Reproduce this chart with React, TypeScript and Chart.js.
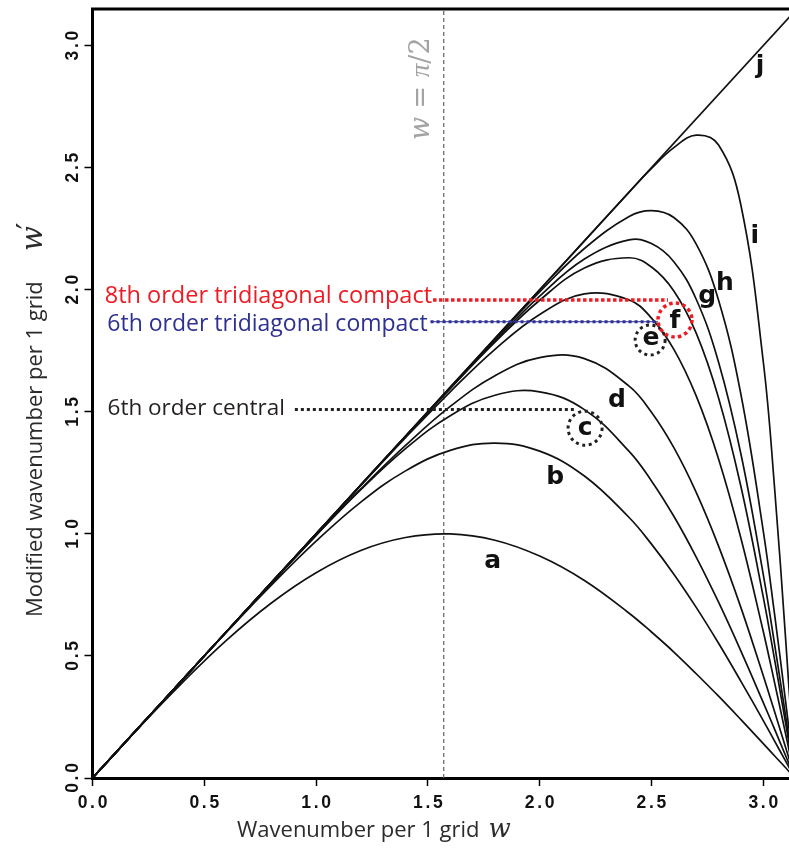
import React, { useEffect, useRef } from 'react';
import { Chart, registerables } from 'chart.js';

Chart.register(...registerables);

// ---------- data ----------
const W = [0, 0.2, 0.4, 0.6, 0.8, 1.0, 1.2, 1.4, 1.6, 1.8, 2.0, 2.2, 2.4, 2.5, 2.6, 2.7, 2.8, 2.9, 3.0, 3.05, 3.1, 3.1416];

const CURVE_A = [0, 0.199, 0.389, 0.565, 0.717, 0.841, 0.932, 0.985, 1.0, 0.974, 0.909, 0.809, 0.675, 0.598, 0.516, 0.427, 0.335, 0.239, 0.141, 0.091, 0.042, 0];
const CURVE_B = [0, 0.2, 0.4, 0.598, 0.79, 0.97, 1.13, 1.258, 1.342, 1.372, 1.339, 1.237, 1.067, 0.958, 0.835, 0.699, 0.552, 0.396, 0.235, 0.152, 0.069, 0];
const CURVE_C = [0, 0.2, 0.4, 0.6, 0.799, 0.994, 1.181, 1.349, 1.484, 1.568, 1.582, 1.509, 1.338, 1.217, 1.072, 0.905, 0.72, 0.52, 0.309, 0.201, 0.091, 0];
const CURVE_D = [0, 0.2, 0.4, 0.6, 0.798, 0.994, 1.184, 1.362, 1.522, 1.648, 1.722, 1.718, 1.605, 1.498, 1.353, 1.17, 0.95, 0.698, 0.419, 0.273, 0.125, 0];
const CURVE_E = [0, 0.2, 0.4, 0.6, 0.8, 0.999, 1.198, 1.394, 1.582, 1.756, 1.899, 1.983, 1.958, 1.884, 1.756, 1.565, 1.307, 0.982, 0.6, 0.393, 0.18, 0];
const CURVE_F = [0, 0.2, 0.4, 0.6, 0.8, 1.0, 1.2, 1.399, 1.595, 1.785, 1.957, 2.089, 2.131, 2.093, 1.995, 1.822, 1.557, 1.194, 0.741, 0.488, 0.224, 0];
const CURVE_G = [0, 0.2, 0.4, 0.6, 0.8, 1.0, 1.2, 1.399, 1.597, 1.791, 1.974, 2.126, 2.204, 2.189, 2.115, 1.961, 1.703, 1.327, 0.833, 0.551, 0.253, 0];
const CURVE_H = [0, 0.2, 0.4, 0.6, 0.8, 1.0, 1.2, 1.4, 1.599, 1.798, 1.991, 2.169, 2.3, 2.324, 2.296, 2.187, 1.957, 1.571, 1.011, 0.674, 0.312, 0];
const CURVE_I = [0, 0.2, 0.4, 0.6, 0.8, 1.0, 1.201, 1.401, 1.601, 1.801, 2.0, 2.2, 2.4, 2.497, 2.582, 2.633, 2.593, 2.346, 1.705, 1.194, 0.569, 0];

const EXACT_X = [0, 3.1416];
const EXACT_Y = [0, 3.1416];

const CURVES = [CURVE_A, CURVE_B, CURVE_C, CURVE_D, CURVE_E, CURVE_F, CURVE_G, CURVE_H, CURVE_I];

const LETTERS = ['a', 'b', 'c', 'd', 'e', 'f', 'g', 'h', 'i', 'j'];
const LETTER_X = [1.79, 2.069, 2.203, 2.346, 2.498, 2.605, 2.749, 2.828, 2.962, 2.985];
const LETTER_Y = [0.888, 1.232, 1.432, 1.548, 1.799, 1.869, 1.971, 2.026, 2.217, 2.914];

const HALF_PI = 1.5708;

const NOTE_TEXT = ['8th order tridiagonal compact', '6th order tridiagonal compact', '6th order central'];
const NOTE_Y = [1.958, 1.869, 1.509];
const NOTE_X0 = [1.523, 1.512, 0.905];
const NOTE_X1 = [2.574, 2.529, 2.158];

const CIRCLE_X = [2.203, 2.494, 2.605];
const CIRCLE_Y = [1.433, 1.794, 1.876];

const X_MIN = 0;
const X_MAX = 3.115;
const Y_MIN = 0;
const Y_MAX = 3.15;
const TICK_STEP = 0.5;

// ---------- styles ----------
const RED = '#ed1c24';
const BLUE = '#2e3192';
const DARK = '#231f20';
const NOTE_COLORS = [RED, BLUE, DARK];
const NOTE_GAP = [1, 3, 10];
const NOTE_BASE = [3, 9, 5.5];
const NOTE_FONT = ['23.5px "Open Sans"', '23px "Open Sans"', '22.5px "Open Sans"'];
const CIRCLE_R = [17, 15, 17];
const CIRCLE_COLORS = [DARK, DARK, RED];

// draw a label in fixed-pitch cells, centred at (0,0)
function drawMono(ctx: CanvasRenderingContext2D, text: string, pitch: number) {
  const total = text.length * pitch;
  let x = -total / 2 + pitch / 2;
  for (const ch of text) {
    ctx.fillText(ch, x, 0);
    x += pitch;
  }
}

const overlay = {
  id: 'overlay',
  afterDraw(chart: any) {
    const { ctx, chartArea } = chart;
    const xs = chart.scales.x;
    const ys = chart.scales.y;
    const px = (v: number) => xs.getPixelForValue(v);
    const py = (v: number) => ys.getPixelForValue(v);
    ctx.save();

    // top frame line
    ctx.strokeStyle = '#000';
    ctx.lineWidth = 3;
    ctx.beginPath();
    ctx.moveTo(chartArea.left - 1.5, chartArea.top);
    ctx.lineTo(chartArea.right, chartArea.top);
    ctx.stroke();

    // dotted circles
    for (let k = 0; k < CIRCLE_X.length; k++) {
      ctx.beginPath();
      ctx.strokeStyle = CIRCLE_COLORS[k];
      ctx.lineWidth = k === 2 ? 3.5 : 3;
      ctx.setLineDash(k === 2 ? [3.5, 3.2] : [3, 3.6]);
      ctx.arc(px(CIRCLE_X[k]), py(CIRCLE_Y[k]), CIRCLE_R[k], 0, Math.PI * 2);
      ctx.stroke();
    }
    ctx.setLineDash([]);

    // curve letters
    ctx.fillStyle = '#111';
    ctx.font = 'bold 25px "DejaVu Sans"';
    ctx.textAlign = 'center';
    ctx.textBaseline = 'middle';
    for (let k = 0; k < LETTERS.length; k++) {
      ctx.fillText(LETTERS[k], px(LETTER_X[k]), py(LETTER_Y[k]));
    }

    // note texts
    ctx.textAlign = 'right';
    ctx.textBaseline = 'alphabetic';
    for (let k = 0; k < NOTE_TEXT.length; k++) {
      ctx.font = NOTE_FONT[k];
      ctx.fillStyle = NOTE_COLORS[k];
      ctx.fillText(NOTE_TEXT[k], px(NOTE_X0[k]) - NOTE_GAP[k], py(NOTE_Y[k]) + NOTE_BASE[k]);
    }

    // w = pi/2 label (rotated)
    ctx.save();
    ctx.translate(px(HALF_PI) - 15, py(2.613));
    ctx.rotate(-Math.PI / 2);
    ctx.fillStyle = '#a3a3a3';
    ctx.textAlign = 'left';
    const segs: [string, string][] = [
      ['w', 'italic 27px "DejaVu Serif"'],
      [' = ', '27px "DejaVu Serif"'],
      ['π', 'italic 27px "Liberation Serif"'],
      ['/2', '27px "DejaVu Serif"'],
    ];
    let off = 0;
    for (const [t, f] of segs) {
      ctx.font = f;
      ctx.fillText(t, off, 0);
      off += ctx.measureText(t).width;
    }
    ctx.restore();

    // tick labels
    ctx.fillStyle = '#111';
    ctx.font = 'bold 17.5px "Liberation Sans"';
    ctx.textAlign = 'center';
    ctx.textBaseline = 'middle';
    for (const t of xs.ticks) {
      ctx.save();
      ctx.translate(px(t.value), chartArea.bottom + 25);
      drawMono(ctx, Number(t.value).toFixed(1), 10);
      ctx.restore();
    }
    for (const t of ys.ticks) {
      ctx.save();
      ctx.translate(chartArea.left - 19.5, py(t.value));
      ctx.rotate(-Math.PI / 2);
      drawMono(ctx, Number(t.value).toFixed(1), 10);
      ctx.restore();
    }

    // axis titles
    ctx.fillStyle = '#2b2b2b';
    ctx.textAlign = 'left';
    ctx.textBaseline = 'alphabetic';
    ctx.font = '22px "Open Sans"';
    const xt = 'Wavenumber per 1 grid';
    const xtX = chartArea.left + 144.5;
    ctx.fillText(xt, xtX, 837);
    const xtw = ctx.measureText(xt).width;
    ctx.font = 'italic 26px "DejaVu Serif"';
    ctx.fillText('w', xtX + xtw + 9, 837);

    ctx.save();
    ctx.translate(42, 617);
    ctx.rotate(-Math.PI / 2);
    ctx.font = '22px "Open Sans"';
    const yt = 'Modified wavenumber per 1 grid';
    ctx.fillText(yt, 0, 0);
    ctx.font = 'italic 29px "DejaVu Serif"';
    ctx.fillText('w', 366, 0);
    const ww = ctx.measureText('w').width;
    ctx.font = '30px "DejaVu Sans"';
    ctx.fillText('\u2032', 366 + ww - 3, -4);
    ctx.restore();

    ctx.restore();
  },
};

export default function App() {
  const ref = useRef<HTMLCanvasElement | null>(null);

  useEffect(() => {
    if (!ref.current) return;
    const curveSets = CURVES.map((arr) => ({
      data: W.map((w, k) => ({ x: w, y: arr[k] })),
      borderColor: '#111',
      borderWidth: 1.7,
      pointRadius: 0,
      tension: 0.4,
      fill: false,
      order: 2,
    }));
    const exactSet = {
      data: EXACT_X.map((v, k) => ({ x: v, y: EXACT_Y[k] })),
      borderColor: '#111',
      borderWidth: 1.7,
      pointRadius: 0,
      tension: 0,
      order: 2,
    };
    const halfPiSet = {
      data: [{ x: HALF_PI, y: Y_MIN }, { x: HALF_PI, y: Y_MAX }],
      borderColor: '#6d6d6d',
      borderWidth: 1.3,
      borderDash: [4, 3],
      pointRadius: 0,
      order: 3,
    };
    const noteLine = (k: number, color: string, width: number, dash: number[]) => ({
      data: [{ x: NOTE_X0[k], y: NOTE_Y[k] }, { x: NOTE_X1[k], y: NOTE_Y[k] }],
      borderColor: color,
      borderWidth: width,
      borderDash: dash,
      pointRadius: 0,
      order: 1,
    });
    const chart = new Chart(ref.current, {
      type: 'line',
      data: {
        datasets: [
          noteLine(0, RED, 3.5, [3.5, 2.5]),
          noteLine(1, BLUE, 1, []),
          noteLine(1, BLUE, 3, [3, 3]),
          noteLine(2, DARK, 3, [3, 3]),
          ...curveSets,
          exactSet,
          halfPiSet,
        ] as any,
      },
      options: {
        responsive: false,
        animation: false,
        devicePixelRatio: 1,
        layout: { padding: { top: 9, left: 0, right: 0, bottom: 0 } },
        elements: { line: { capBezierPoints: false } as any },
        plugins: { legend: { display: false }, tooltip: { enabled: false } },
        events: [],
        scales: {
          x: {
            type: 'linear',
            min: X_MIN,
            max: X_MAX,
            ticks: { display: false, stepSize: TICK_STEP, includeBounds: false },
            grid: { display: true, drawOnChartArea: false, drawTicks: true, tickLength: 8, tickWidth: 1.5, tickColor: '#000' },
            border: { display: true, width: 3, color: '#000' },
            afterFit: (s: any) => {
              s.height = 70;
              s.paddingLeft = 0;
              s.paddingRight = 0;
            },
          },
          y: {
            type: 'linear',
            min: Y_MIN,
            max: Y_MAX,
            ticks: { display: false, stepSize: TICK_STEP, includeBounds: false },
            grid: { display: true, drawOnChartArea: false, drawTicks: true, tickLength: 8, tickWidth: 1.5, tickColor: '#000' },
            border: { display: true, width: 3, color: '#000' },
            afterFit: (s: any) => {
              s.width = 92.5;
              s.paddingTop = 0;
              s.paddingBottom = 0;
            },
          },
        },
      } as any,
      plugins: [overlay],
    });
    return () => chart.destroy();
  }, []);

  return (
    <div style={{ position: 'absolute', left: 0, top: 0, width: 789, height: 848, background: '#fff' }}>
      <canvas ref={ref} width={789} height={848} style={{ display: 'block', width: 789, height: 848 }} />
    </div>
  );
}
